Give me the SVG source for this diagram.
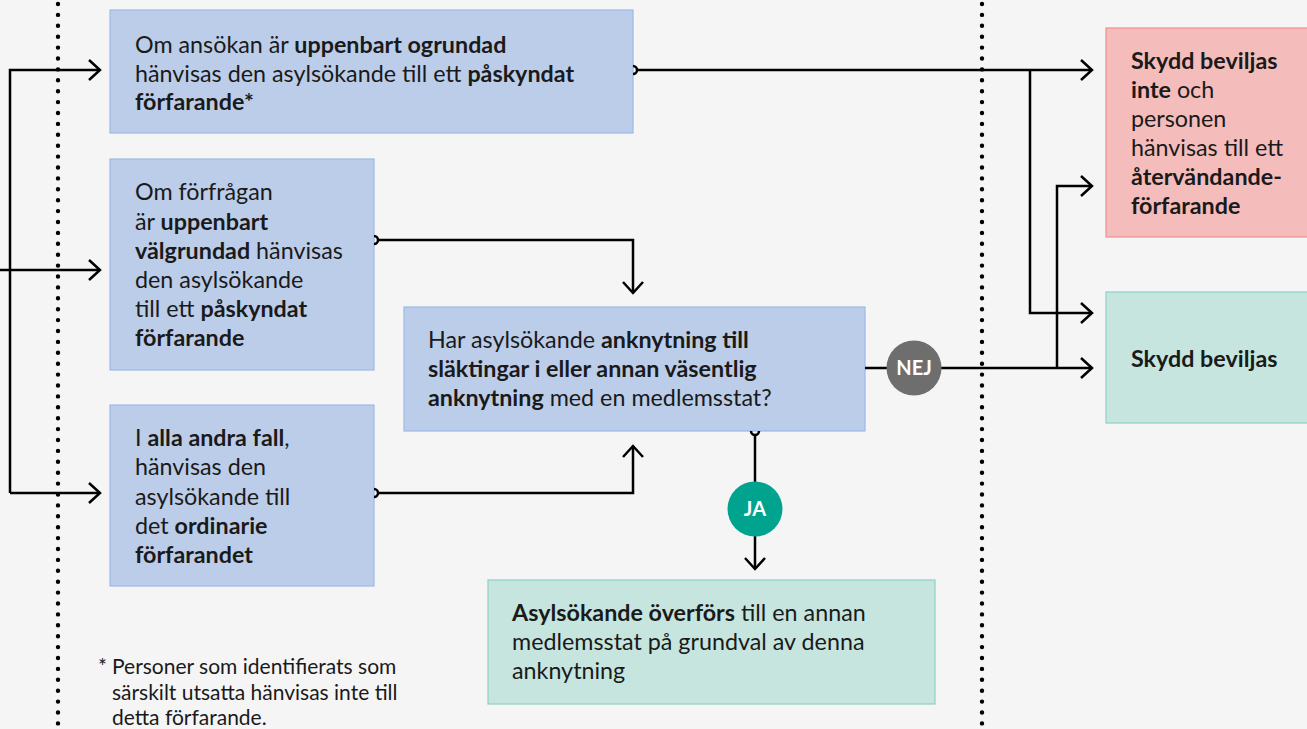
<svg xmlns="http://www.w3.org/2000/svg" width="1307" height="729" viewBox="0 0 1307 729">
<style>
.t{font-family:Lato,"Liberation Sans",sans-serif;font-size:23.3px;fill:#1a1a1a}
.b{font-weight:bold}
.blue{fill:#bccde9;stroke:#9dbae6;stroke-width:1.2}
.red{fill:#f5bcbc;stroke:#ee9090;stroke-width:1.2}
.green{fill:#c6e5df;stroke:#8fd1c3;stroke-width:1.2}
.ln{fill:none;stroke:#000;stroke-width:2.5}
.dot{fill:none;stroke:#000;stroke-width:4.4;stroke-linecap:round;stroke-dasharray:0 10.9}
.lbl{font-family:Lato,"Liberation Sans",sans-serif;font-size:20px;font-weight:bold;fill:#fff}
.fn{font-size:21px}
</style>
<defs>
<marker id="ah" markerUnits="userSpaceOnUse" markerWidth="24" markerHeight="24" refX="12" refY="12" orient="auto" overflow="visible">
<path d="M1,2 L12,12 L1,22" fill="none" stroke="#000" stroke-width="2.5"/>
</marker>
</defs>
<rect width="1307" height="729" fill="#f5f5f5"/>
<line class="dot" x1="58" y1="4" x2="58" y2="729"/>
<line class="dot" x1="982" y1="4" x2="982" y2="729"/>

<g id="box1">
<rect class="blue" x="110" y="10" width="523" height="123"/>
<text class="t" x="135" y="53">Om ansökan är <tspan class="b">uppenbart ogrundad</tspan></text>
<text class="t" x="135" y="82">hänvisas den asylsökande till ett <tspan class="b">påskyndat</tspan></text>
<text class="t" x="135" y="110"><tspan class="b">förfarande*</tspan></text>
</g>
<g id="box2">
<rect class="blue" x="110" y="159" width="264" height="211"/>
<text class="t" x="135" y="200">Om förfrågan</text>
<text class="t" x="135" y="230">är <tspan class="b">uppenbart</tspan></text>
<text class="t" x="135" y="259"><tspan class="b">välgrundad</tspan> hänvisas</text>
<text class="t" x="135" y="288">den asylsökande</text>
<text class="t" x="135" y="317">till ett <tspan class="b">påskyndat</tspan></text>
<text class="t" x="135" y="346"><tspan class="b">förfarande</tspan></text>
</g>
<g id="box3">
<rect class="blue" x="110" y="405" width="264" height="181"/>
<text class="t" x="135" y="446">I <tspan class="b">alla andra fall</tspan>,</text>
<text class="t" x="135" y="475">hänvisas den</text>
<text class="t" x="135" y="505">asylsökande till</text>
<text class="t" x="135" y="534">det <tspan class="b">ordinarie</tspan></text>
<text class="t" x="135" y="563"><tspan class="b">förfarandet</tspan></text>
</g>
<g id="center">
<rect class="blue" x="404" y="307" width="461" height="124"/>
<text class="t" x="428" y="348">Har asylsökande <tspan class="b">anknytning till</tspan></text>
<text class="t" x="428" y="377"><tspan class="b">släktingar i eller annan väsentlig</tspan></text>
<text class="t" x="428" y="406"><tspan class="b">anknytning</tspan> med en medlemsstat?</text>
</g>
<g id="transfer">
<rect class="green" x="488" y="580" width="447" height="124"/>
<text class="t" x="512" y="621"><tspan class="b">Asylsökande överförs</tspan> till en annan</text>
<text class="t" x="512" y="650">medlemsstat på grundval av denna</text>
<text class="t" x="512" y="679">anknytning</text>
</g>
<g id="denied">
<rect class="red" x="1106" y="28" width="210" height="209"/>
<text class="t" x="1131" y="69"><tspan class="b">Skydd beviljas</tspan></text>
<text class="t" x="1131" y="98"><tspan class="b">inte</tspan> och</text>
<text class="t" x="1131" y="127">personen</text>
<text class="t" x="1131" y="156">hänvisas till ett</text>
<text class="t" x="1131" y="185"><tspan class="b">återvändande-</tspan></text>
<text class="t" x="1131" y="214"><tspan class="b">förfarande</tspan></text>
</g>
<g id="granted">
<rect class="green" x="1106" y="292" width="210" height="131"/>
<text class="t" x="1131" y="367"><tspan class="b">Skydd beviljas</tspan></text>
</g>
<g id="footnote">
<text class="t fn" x="98" y="674">*</text>
<text class="t fn" x="112" y="674">Personer som identifierats som</text>
<text class="t fn" x="112" y="700">särskilt utsatta hänvisas inte till</text>
<text class="t fn" x="112" y="725">detta förfarande.</text>
</g>

<g id="connectors">
<polyline class="ln" points="10,493 10,70 100,70" marker-end="url(#ah)"/>
<polyline class="ln" points="0,270 100,270" marker-end="url(#ah)"/>
<polyline class="ln" points="10,493 100,493" marker-end="url(#ah)"/>
<path class="ln" d="M633,66 a4,4 0 0 1 0,8"/>
<polyline class="ln" points="637,70 1092,70" marker-end="url(#ah)"/>
<polyline class="ln" points="1030,70 1030,313 1092,313" marker-end="url(#ah)"/>
<path class="ln" d="M374,236 a4,4 0 0 1 0,8"/>
<polyline class="ln" points="378,240 633,240 633,293" marker-end="url(#ah)"/>
<path class="ln" d="M374,489 a4,4 0 0 1 0,8"/>
<polyline class="ln" points="378,493 633,493 633,446" marker-end="url(#ah)"/>
<path class="ln" d="M751,431 a4,4 0 0 0 8,0"/>
<polyline class="ln" points="755,435 755,569" marker-end="url(#ah)"/>
<polyline class="ln" points="865,368 1092,368" marker-end="url(#ah)"/>
<polyline class="ln" points="1057,368 1057,186 1092,186" marker-end="url(#ah)"/>
</g>
<g id="nej">
<circle cx="914" cy="368" r="27.5" fill="#6e6e6e"/>
<text class="lbl" x="914" y="375" text-anchor="middle">NEJ</text>
</g>
<g id="ja">
<circle cx="755" cy="509" r="27.5" fill="#00a38e"/>
<text class="lbl" x="755" y="516" text-anchor="middle">JA</text>
</g>
</svg>
